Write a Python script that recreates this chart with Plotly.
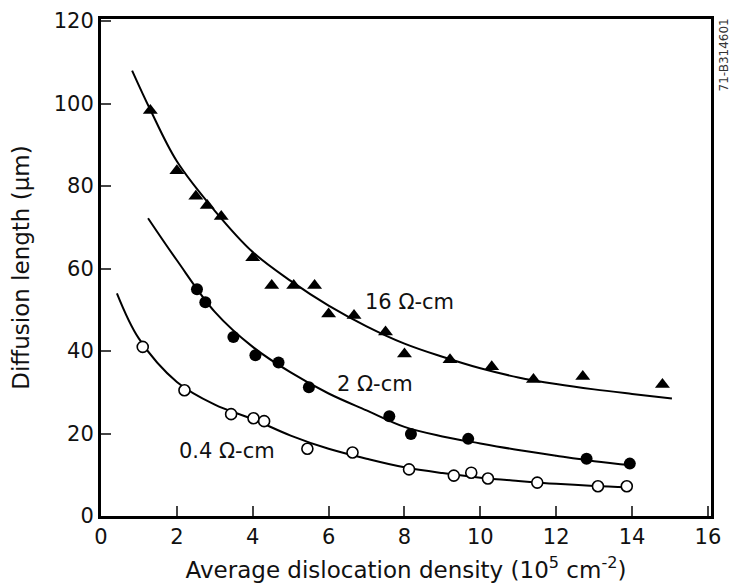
import plotly.graph_objects as go

# ---- data ----
# 16 ohm-cm (filled triangles)
x16 = [1.3, 2.0, 2.5, 2.8, 3.17, 4.0, 4.5, 5.08, 5.63, 6.0, 6.67, 7.5, 8.0, 9.2, 10.3, 11.4, 12.7, 14.8]
y16 = [98.3, 83.7, 77.5, 75.3, 72.6, 62.6, 55.9, 55.9, 55.9, 49.0, 48.6, 44.6, 39.3, 37.9, 36.2, 33.1, 33.8, 31.9]
# 2 ohm-cm (filled circles)
x2 = [2.53, 2.75, 3.49, 4.07, 4.68, 5.48, 7.6, 8.17, 9.68, 12.8, 13.94]
y2 = [55.0, 51.8, 43.4, 39.0, 37.2, 31.2, 24.2, 19.9, 18.7, 13.9, 12.7]
# 0.4 ohm-cm (open circles)
x04 = [1.1, 2.2, 3.43, 4.02, 4.3, 5.44, 6.63, 8.12, 9.3, 9.76, 10.2, 11.5, 13.1, 13.86]
y04 = [41.0, 30.5, 24.7, 23.7, 23.0, 16.3, 15.4, 11.3, 9.8, 10.5, 9.1, 8.1, 7.2, 7.2]

# fitted curves
cx16 = [0.82, 1.3, 2, 3, 4, 5, 6, 7, 8, 9, 10, 11, 12, 13, 14, 15.05]
cy16 = [108, 98.5, 86, 74, 64, 57, 51, 46, 41.8, 38.6, 35.8, 33.6, 32.0, 30.7, 29.6, 28.5]
cx2 = [1.24, 2, 3, 4, 5, 6, 7, 8, 9, 10, 11, 12, 13, 14]
cy2 = [72.2, 62, 49.5, 41, 34.8, 29.7, 25.6, 21.6, 19.3, 17.6, 16.0, 14.6, 13.3, 12.3]
cx04 = [0.42, 1, 2, 3, 4, 5, 6, 7, 8, 9, 10, 11, 12, 13, 13.9]
cy04 = [54, 43, 32.5, 27, 23.5, 19.5, 16.3, 13.9, 11.8, 10.4, 9.3, 8.5, 7.8, 7.3, 7.0]

labels = ["16 Ω-cm", "2 Ω-cm", "0.4 Ω-cm"]
label_x = [6.9, 6.16, 2.0]
label_y = [51.8, 32.1, 15.8]

x_ticks = [0, 2, 4, 6, 8, 10, 12, 14, 16]
y_ticks = [0, 20, 40, 60, 80, 100, 120]

FONT = "DejaVu Sans, Liberation Sans, sans-serif"

fig = go.Figure()

for cx, cy in [(cx16, cy16), (cx2, cy2), (cx04, cy04)]:
    fig.add_trace(go.Scatter(x=cx, y=cy, mode="lines", line=dict(color="black", width=2, shape="spline"),
                             hoverinfo="skip", showlegend=False))

fig.add_trace(go.Scatter(x=x16, y=y16, mode="markers",
                         marker=dict(symbol="triangle-up", size=13, color="black"), showlegend=False))
fig.add_trace(go.Scatter(x=x2, y=y2, mode="markers",
                         marker=dict(symbol="circle", size=12, color="black"), showlegend=False))
fig.add_trace(go.Scatter(x=x04, y=y04, mode="markers",
                         marker=dict(symbol="circle", size=11, color="white", line=dict(color="black", width=1.6)),
                         showlegend=False))

for t, lx, ly in zip(labels, label_x, label_y):
    fig.add_annotation(x=lx, y=ly, text=t, showarrow=False, xanchor="left", yanchor="middle",
                       font=dict(family=FONT, size=21, color="#111"))

fig.add_annotation(x=1.0, y=1.0, xref="paper", yref="paper", text="71-B314601", showarrow=False,
                   textangle=-90, xanchor="left", yanchor="top", xshift=3, yshift=2,
                   font=dict(family=FONT, size=12, color="#333"))

fig.update_layout(
    width=729, height=587,
    margin=dict(l=101, r=18, t=19, b=71),
    paper_bgcolor="white", plot_bgcolor="white",
    font=dict(family=FONT, size=21, color="#111"),
)
fig.update_xaxes(range=[0, 16.08], tickvals=x_ticks, ticks="inside", ticklen=10, tickwidth=2,
                 showline=True, linecolor="black", linewidth=3, mirror=True, showgrid=False, zeroline=False,
                 automargin=False,
                 title=dict(text="Average dislocation density (10<sup>5</sup> cm<sup>-2</sup>)", standoff=14,
                            font=dict(size=23)),
                 tickfont=dict(size=21))
fig.update_yaxes(range=[0, 120.5], tickvals=y_ticks, ticks="inside", ticklen=10, tickwidth=2,
                 showline=True, linecolor="black", linewidth=3, mirror=True, showgrid=False, zeroline=False,
                 automargin=False,
                 title=dict(text="Diffusion length (μm)", standoff=18, font=dict(size=23)),
                 tickfont=dict(size=21))

fig.write_html("out.html")
